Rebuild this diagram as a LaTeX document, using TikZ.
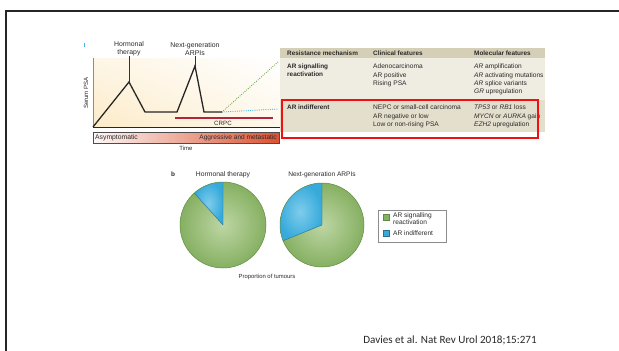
\documentclass[tikz,border=0pt]{standalone}
\usepackage{fontspec}
\setmainfont{Liberation Sans}
\newfontfamily\citefont{Carlito}
\usetikzlibrary{arrows.meta,shadings}
\definecolor{txt}{HTML}{2A2A2A}
\definecolor{hdr}{HTML}{D6CFB8}
\definecolor{rowa}{HTML}{EFECE2}
\definecolor{rowb}{HTML}{E4DFCD}
\definecolor{pieg}{HTML}{86B062}
\definecolor{pieglt}{HTML}{BDD6A4}
\definecolor{piegd}{HTML}{5F8A40}
\definecolor{pieb}{HTML}{36AADB}
\definecolor{pieblt}{HTML}{7FCCEC}
\definecolor{piebd}{HTML}{2B6F8E}
\definecolor{crpc}{HTML}{B3243A}
\definecolor{barred}{HTML}{DB5232}
\definecolor{bgy}{HTML}{FCEBC8}
\definecolor{dotg}{HTML}{5EA83A}
\definecolor{dotb}{HTML}{45B6E2}
\definecolor{boxred}{HTML}{F01010}
\tikzset{
  lbl/.style={font=\fontsize{6.6}{8}\selectfont, text=txt, inner sep=0pt},
  cell/.style={lbl, anchor=north west, align=left, font=\fontsize{6.6}{8.1}\selectfont},
  bcell/.style={lbl, anchor=north west, align=left, font=\bfseries\fontsize{6.4}{7.6}\selectfont},
  psa/.style={line width=1.3pt, black!85, line join=miter},
  dots/.style={line width=1.2pt, line cap=round, dash pattern=on 0pt off 2.2pt},
  ann/.style={-{Stealth[length=2.5pt,width=2pt]}, line width=0.4pt, black!80},
}
\begin{document}
\begin{tikzpicture}[x=1pt,y=-1pt]
\useasboundingbox (0,0) rectangle (619,351);
% frame
\draw[line width=2pt, black!85] (6,352) -- (6,11) -- (620,11);

% ---------- panel a: chart ----------
\draw[dotb, line width=0.6pt] (84,43) -- (84,46.5);
\shade[lower left=bgy, upper left=bgy!45, lower right=bgy!35, upper right=white] (93,58) rectangle (280,127);
\draw[black!45, line width=0.4pt] (93,58) -- (93,127);
\draw[black!85, line width=0.6pt] (93,127) -- (280,127);
\node[lbl, rotate=90, font=\fontsize{6.1}{7}\selectfont] (ylab) at (86,93) {Serum PSA};

\coordinate (p0) at (93,127);
\coordinate (p1) at (129,82);
\coordinate (p2) at (145,112);
\coordinate (p3) at (177,112);
\coordinate (p4) at (195,66);
\coordinate (p5) at (204,112);
\coordinate (p6) at (222,112);
\coordinate (g1) at (278,62);
\coordinate (b1) at (278,109);
\draw[dotg, dots] (p6) -- (g1);
\draw[dotb, dots] (p6) -- (b1);
\draw[psa] (p0) -- (p1) -- (p2) -- (p3) -- (p4) -- (p5) -- (p6);

\node[lbl, align=center, font=\fontsize{6.9}{8}\selectfont] (hormonal) at (129,49) {Hormonal\\therapy};
\node[lbl, align=center, font=\fontsize{6.9}{8}\selectfont] (nextgen) at (195,49) {Next-generation\\ARPIs};
\draw[ann] (hormonal.south) -- ([yshift=-2pt]p1);
\draw[ann] (nextgen.south) -- ([yshift=-2pt]p4);

\coordinate (c0) at (175,118);
\coordinate (c1) at (273,118);
\draw[crpc, line width=1.2pt] (c0) -- (c1);
\node[lbl, font=\fontsize{6.2}{7}\selectfont] (crpc) at (223,123.5) {CRPC};

\shade[left color=barred!4, right color=barred] (93,132) rectangle (279,143);
\draw[black!70, line width=0.4pt] (93,132) rectangle (279,143);
\node[lbl, anchor=west, font=\fontsize{6.8}{8}\selectfont] (asym) at (95,137.5) {Asymptomatic};
\node[lbl, anchor=east, font=\fontsize{6.6}{8}\selectfont] (aggr) at (277,137.5) {Aggressive and metastatic};
\node[lbl, font=\fontsize{6}{7}\selectfont] (time) at (186,148.5) {Time};

% ---------- table ----------
\begin{scope}
\clip (280,40) rectangle (545,145);
\fill[rowa] (280,48) rectangle (545,100);
\fill[hdr] (280,48) rectangle (545,57.5);
\fill[rowb] (280,100) rectangle (545,132);
\node[lbl, font=\bfseries\fontsize{6.4}{7.6}\selectfont, anchor=west] (h1) at (287,53) {Resistance mechanism};
\node[lbl, font=\bfseries\fontsize{6.4}{7.6}\selectfont, anchor=west] (h2) at (373,53) {Clinical features};
\node[lbl, font=\bfseries\fontsize{6.4}{7.6}\selectfont, anchor=west] (h3) at (474,53) {Molecular features};

\node[bcell] (r1a) at (287,64) {AR signalling\\reactivation};
\node[cell] (r1b) at (373,64) {Adenocarcinoma\\AR positive\\Rising PSA};
\node[cell] (r1c) at (474,64) {\textit{AR} amplification\\\textit{AR} activating mutations\\\textit{AR} splice variants\\\textit{GR} upregulation};

\node[bcell] (r2a) at (287,105) {AR indifferent};
\node[cell] (r2b) at (373,105) {NEPC or small-cell carcinoma\\AR negative or low\\Low or non-rising PSA};
\node[cell] (r2c) at (474,105) {\textit{TP53} or \textit{RB1} loss\\\textit{MYCN} or \textit{AURKA} gain\\\textit{EZH2} upregulation};
\end{scope}
\draw[boxred, line width=2pt] (282,99.5) rectangle (538,138);

% ---------- panel b: pies ----------
\node[lbl, font=\bfseries\fontsize{6.4}{7.6}\selectfont] (b) at (173,174.5) {b};
\node[lbl, font=\fontsize{6.8}{8}\selectfont] (t1) at (223,175) {Hormonal therapy};
\node[lbl, font=\fontsize{6.6}{8}\selectfont] (t2) at (322,175) {Next-generation ARPIs};

\coordinate (o1) at (223,225);
\coordinate (o2) at (322,225);
\shade[inner color=pieglt, outer color=pieg] (o1) circle[radius=43];
\shade[inner color=pieglt, outer color=pieg] (o2) circle[radius=42];
\shade[inner color=pieblt, outer color=pieb] (o1) -- ++(0,-43) arc[start angle=-90, end angle=-132, radius=43] -- cycle;
\shade[inner color=pieblt, outer color=pieb] (o2) -- ++(0,-42) arc[start angle=-90, end angle=-202, radius=42] -- cycle;
\draw[piebd, line width=0.4pt] (o1) -- ++(0,-43) (o1) -- ++(-132:43);
\draw[piebd, line width=0.4pt] (o2) -- ++(0,-42) (o2) -- ++(-202:42);
\draw[piegd, line width=0.5pt] (o1) circle[radius=43];
\draw[piegd, line width=0.5pt] (o2) circle[radius=42];

\node[lbl, font=\fontsize{5.9}{7}\selectfont] (prop) at (267,277) {Proportion of tumours};

\draw[black!45, line width=0.5pt, fill=white] (378,210) rectangle (446,242);
\draw[piegd, fill=pieg, line width=0.3pt] (383,214) rectangle (389,220);
\draw[piebd, fill=pieb, line width=0.3pt] (383,230) rectangle (389,236);
\node[lbl, anchor=north west, align=left, font=\fontsize{6.6}{6.4}\selectfont] (l1) at (393,213) {AR signalling\\reactivation};
\node[lbl, anchor=west, font=\fontsize{6.6}{6.4}\selectfont] (l2) at (393,233) {AR indifferent};

% citation
\node[inner sep=0pt, font=\citefont\fontsize{11.1}{13}\selectfont, text=black!85] (cite) at (450,340) {Davies et al. Nat Rev Urol 2018;15:271};
\end{tikzpicture}
\end{document}
